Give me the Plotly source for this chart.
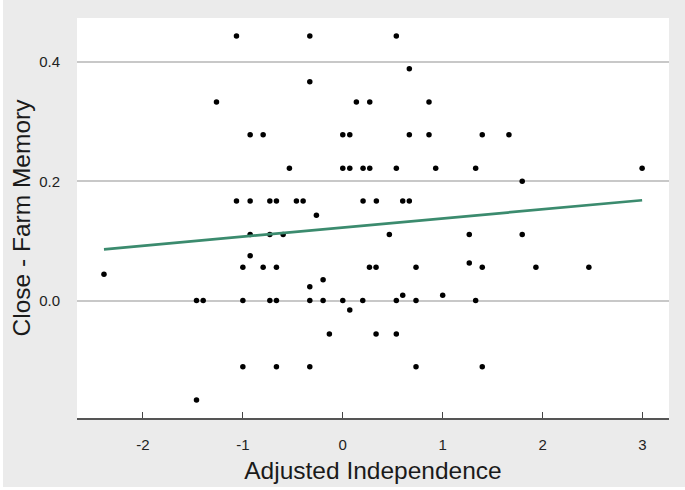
import numpy as np
import plotly.graph_objects as go

# Data
independence = [
    -1.064, -0.33, -0.33, -1.264, 0.136, 0.27, -0.927, -0.797, 0.0, 0.07,
    -0.534, 0.0, 0.07, 0.203, 0.27, -1.064, -0.927, -0.73, -0.664, -0.464,
    -0.397, -0.264, 0.203, 0.336, -0.927, -0.73, -0.597, 0.536, 0.666, 0.863,
    0.666, 0.863, 1.396, 1.663, 0.536, 0.93, 1.33, 2.996, 1.796, 0.6,
    0.666, 0.466, 1.266, 1.796, -0.927, -2.39, -1.0, -0.797, -0.664, -0.197,
    -0.33, 0.267, 0.333, -1.464, -1.397, -1.0, -0.73, -0.664, -0.33, -0.197,
    0.0, 0.2, 0.07, -0.134, 0.333, -1.0, -0.664, -0.33, -1.464, 1.266,
    0.733, 1.396, 1.933, 2.463, 0.536, 0.733, 1.33, 0.6, 1.0, 0.536,
    0.733, 1.396,
]
memory = [
    0.444, 0.444, 0.367, 0.333, 0.333, 0.333, 0.278, 0.278, 0.278, 0.278,
    0.222, 0.222, 0.222, 0.222, 0.222, 0.167, 0.167, 0.167, 0.167, 0.167,
    0.167, 0.143, 0.167, 0.167, 0.111, 0.111, 0.111, 0.444, 0.389, 0.333,
    0.278, 0.278, 0.278, 0.278, 0.222, 0.222, 0.222, 0.222, 0.200, 0.167,
    0.167, 0.111, 0.111, 0.111, 0.075, 0.044, 0.056, 0.056, 0.056, 0.035,
    0.023, 0.056, 0.056, 0.0, 0.0, 0.0, 0.0, 0.0, 0.0, 0.0,
    0.0, 0.0, -0.016, -0.056, -0.056, -0.111, -0.111, -0.111, -0.167, 0.063,
    0.056, 0.056, 0.056, 0.056, 0.0, 0.0, 0.0, 0.009, 0.009, -0.056,
    -0.111, -0.111,
]
x_tick_values = [-2, -1, 0, 1, 2, 3]
x_tick_labels = ["-2", "-1", "0", "1", "2", "3"]
y_tick_values = [0.0, 0.2, 0.4]
y_tick_labels = ["0.0", "0.2", "0.4"]

x_arr = np.array(independence)
y_arr = np.array(memory)
slope, intercept = np.polyfit(x_arr, y_arr, 1)
fit_x = np.array([x_arr.min(), x_arr.max()])
fit_y = intercept + slope * fit_x

fig = go.Figure()
fig.add_trace(go.Scatter(
    x=independence, y=memory, mode="markers",
    marker=dict(color="black", size=5.5),
    hoverinfo="x+y", showlegend=False,
))
fig.add_trace(go.Scatter(
    x=fit_x, y=fit_y, mode="lines",
    line=dict(color="#3b8b6e", width=2.7),
    showlegend=False,
))

ML, MR, MT, MB = 77, 16, 18, 72
W, H = 685, 490
pw, ph = W - ML - MR, H - MT - MB

fig.update_layout(
    width=W, height=H,
    margin=dict(l=ML, r=MR, t=MT, b=MB, pad=0),
    paper_bgcolor="#ebebeb",
    plot_bgcolor="white",
    font=dict(family="Liberation Sans, Arial, sans-serif", color="#222222"),
    xaxis=dict(
        range=[-2.66, 3.265], automargin=False,
        tickvals=x_tick_values, ticktext=x_tick_labels,
        ticks="inside", ticklen=6, tickwidth=1.2, tickcolor="#444444",
        showline=True, linecolor="#555555", linewidth=1.5,
        showgrid=False, zeroline=False,
        tickfont=dict(size=15, color="#222222"),
        ticklabelstandoff=12,
        title=dict(text="Adjusted Independence", font=dict(size=24.5, color="#1a1a1a"), standoff=10),
    ),
    yaxis=dict(
        range=[-0.197, 0.474], automargin=False,
        tickvals=y_tick_values, ticktext=y_tick_labels,
        ticks="", showline=False,
        showgrid=True, gridcolor="#c8c8c8", gridwidth=1.5,
        zeroline=False,
        tickfont=dict(size=15, color="#222222"),
        ticklabelstandoff=16,
        title=dict(text="Close - Farm Memory", font=dict(size=24.5, color="#1a1a1a"), standoff=1),
    ),
    shapes=[
        dict(type="rect", xref="paper", yref="paper", layer="above",
             x0=-ML / pw, x1=(3 - ML) / pw, y0=-MB / ph, y1=(H - MB) / ph,
             fillcolor="white", line=dict(width=0)),
        dict(type="rect", xref="paper", yref="paper", layer="above",
             x0=-ML / pw, x1=(W - ML) / pw, y0=-MB / ph, y1=(-MB + 3) / ph,
             fillcolor="white", line=dict(width=0)),
    ],
)

fig.write_html("out.html", config={"displayModeBar": False},
               post_script="document.body.style.margin='0';")
